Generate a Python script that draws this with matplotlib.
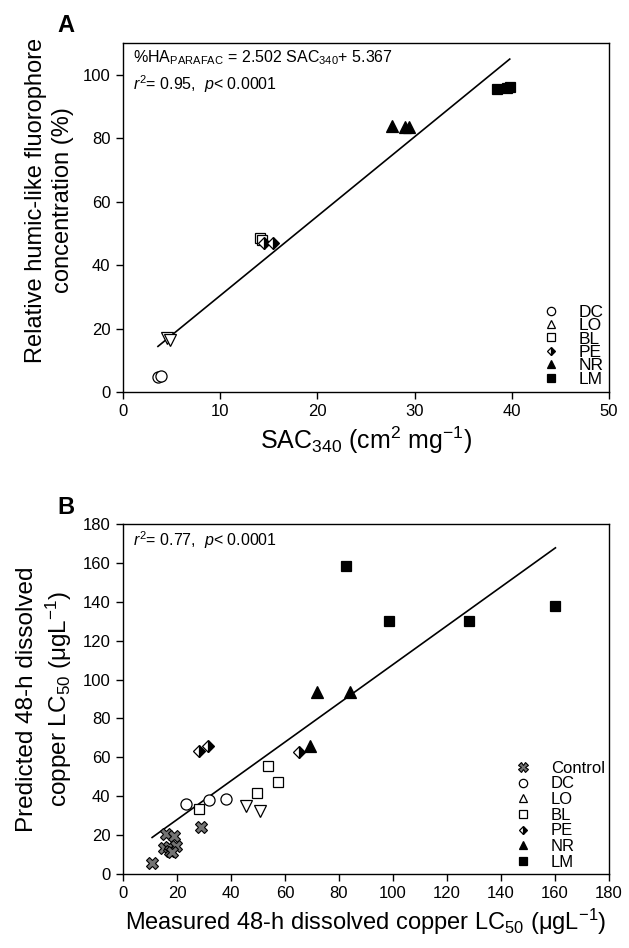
import numpy as np
import matplotlib
matplotlib.use("Agg")
import matplotlib.pyplot as plt
from matplotlib.lines import Line2D

plt.rcParams['font.family'] = ['Liberation Sans', 'DejaVu Sans']
plt.rcParams['mathtext.fontset'] = 'custom'
plt.rcParams['mathtext.rm'] = 'Liberation Sans'
plt.rcParams['mathtext.it'] = 'Liberation Sans:italic'

# ---- panel A data: SAC340 vs %HA (PARAFAC)
a_dc_x = [3.6, 3.9]
a_dc_y = [4.6, 5.0]
a_lo_x = [4.5, 4.8]
a_lo_y = [17.0, 16.3]
a_bl_x = [14.1, 14.3]
a_bl_y = [48.5, 48.0]
a_pe_x = [14.5, 15.4]
a_pe_y = [47.0, 47.0]
a_nr_x = [27.7, 29.0, 29.4]
a_nr_y = [83.8, 83.5, 83.5]
a_lm_x = [38.5, 39.5, 39.8]
a_lm_y = [95.6, 95.8, 96.0]
a_fit = (2.502, 5.367)
a_fit_range = (3.6, 39.8)

# ---- panel B data: measured vs predicted LC50
b_ctrl_x = [10.8, 16.0, 18.8, 15.2, 17.0, 17.6, 19.8, 18.2, 28.8]
b_ctrl_y = [5.6, 20.5, 19.5, 13.5, 13.8, 11.8, 14.2, 11.5, 24.1]
b_dc_x = [23.5, 31.8, 38.1]
b_dc_y = [36.0, 37.8, 38.5]
b_lo_x = [45.5, 50.7]
b_lo_y = [34.8, 32.2]
b_bl_x = [28.1, 49.5, 53.7, 57.3]
b_bl_y = [33.6, 41.6, 55.7, 47.3]
b_pe_x = [28.2, 31.5, 65.2]
b_pe_y = [63.4, 65.9, 62.5]
b_nr_x = [71.9, 84.1, 69.2]
b_nr_y = [93.5, 93.5, 65.9]
b_lm_x = [82.5, 98.6, 128.2, 160.1]
b_lm_y = [158.6, 130.3, 130.1, 137.9]
b_fit = (0.997, 8.0)
b_fit_range = (10.8, 160.2)

ms = 8
styles = {
    'Control': dict(marker='X', mfc='0.45', mec='k', mew=0.8, ms=ms + 1),
    'DC': dict(marker='o', mfc='white', mec='k', mew=0.9, ms=ms),
    'LO': dict(marker='v', mfc='white', mec='k', mew=0.9, ms=ms),
    'BL': dict(marker='s', mfc='white', mec='k', mew=0.9, ms=ms - 0.5),
    'PE': dict(marker='D', mfc='k', mfcalt='white', fillstyle='right', mec='k', mew=0.9, ms=ms - 1.5),
    'NR': dict(marker='^', mfc='k', mec='k', mew=0.9, ms=ms),
    'LM': dict(marker='s', mfc='k', mec='k', mew=0.9, ms=ms - 0.5),
}


def leg_handle(name):
    st = dict(styles[name])
    if name == 'LO':
        st['marker'] = '^'
    st['ms'] = st['ms'] - 2
    return Line2D([], [], ls='none', **st)


fig = plt.figure(figsize=(6.29, 9.48), dpi=100)
axA = fig.add_axes([0.1955, 0.5865, 0.7725, 0.3681])
axB = fig.add_axes([0.1955, 0.0781, 0.7725, 0.3692])

# ---- panel A
xs = np.array(a_fit_range)
axA.plot(xs, a_fit[0] * xs + a_fit[1], color='k', lw=1.2)
for name, x, y in [('DC', a_dc_x, a_dc_y), ('LO', a_lo_x, a_lo_y), ('BL', a_bl_x, a_bl_y),
                   ('PE', a_pe_x, a_pe_y), ('NR', a_nr_x, a_nr_y), ('LM', a_lm_x, a_lm_y)]:
    axA.plot(x, y, ls='none', **styles[name])
axA.set_xlim(0, 50)
axA.set_ylim(0, 110)
axA.set_xticks(np.arange(0, 51, 10))
axA.set_yticks(np.arange(0, 101, 20))
axA.set_xlabel('SAC$_{340}$ (cm$^{2}$ mg$^{-1}$)', fontsize=18, labelpad=4)
axA.set_ylabel('Relative humic-like fluorophore\nconcentration (%)', fontsize=17,
               linespacing=1.3)
axA.yaxis.set_label_coords(-0.10, 0.55)
axA.text(0.02, 0.985, '%HA$_{\\mathrm{PARAFAC}}$ = 2.502 SAC$_{340}$+ 5.367\n$r^2$= 0.95,  $p$< 0.0001',
         transform=axA.transAxes, ha='left', va='top', fontsize=11.5, linespacing=1.35)
namesA = ['DC', 'LO', 'BL', 'PE', 'NR', 'LM']
axA.legend([leg_handle(n) for n in namesA], namesA, loc='lower right', frameon=False,
           fontsize=12.5, labelspacing=-0.1, handletextpad=1.1, handlelength=1.0,
           borderaxespad=0.0, borderpad=0.3)
fig.text(0.092, 0.9736, 'A', fontsize=17, fontweight='bold', ha='left', va='center')

# ---- panel B
xs = np.array(b_fit_range)
axB.plot(xs, b_fit[0] * xs + b_fit[1], color='k', lw=1.2)
for name, x, y in [('Control', b_ctrl_x, b_ctrl_y), ('DC', b_dc_x, b_dc_y), ('LO', b_lo_x, b_lo_y),
                   ('BL', b_bl_x, b_bl_y), ('PE', b_pe_x, b_pe_y), ('NR', b_nr_x, b_nr_y),
                   ('LM', b_lm_x, b_lm_y)]:
    axB.plot(x, y, ls='none', **styles[name])
axB.set_xlim(0, 180)
axB.set_ylim(0, 180)
axB.set_xticks(np.arange(0, 181, 20))
axB.set_yticks(np.arange(0, 181, 20))
axB.set_xlabel('Measured 48-h dissolved copper LC$_{50}$ (\u03bcgL$^{-1}$)', fontsize=17, labelpad=4)
axB.set_ylabel('Predicted 48-h dissolved\ncopper LC$_{50}$ (\u03bcgL$^{-1}$)', fontsize=17.5,
               linespacing=1.25)
axB.yaxis.set_label_coords(-0.10, 0.5)
axB.text(0.02, 0.985, '$r^2$= 0.77,  $p$< 0.0001', transform=axB.transAxes,
         ha='left', va='top', fontsize=11.5)
namesB = ['Control', 'DC', 'LO', 'BL', 'PE', 'NR', 'LM']
axB.legend([leg_handle(n) for n in namesB], namesB, loc='lower right', frameon=False,
           fontsize=12, labelspacing=0.04, handletextpad=1.18, handlelength=1.0,
           borderaxespad=0.0, borderpad=0.25)
fig.text(0.092, 0.465, 'B', fontsize=17, fontweight='bold', ha='left', va='center')

for ax in (axA, axB):
    ax.tick_params(direction='out', length=5, width=1, labelsize=12, pad=4)
    for s in ax.spines.values():
        s.set_linewidth(1.0)

fig.savefig('out.png', dpi=100)
